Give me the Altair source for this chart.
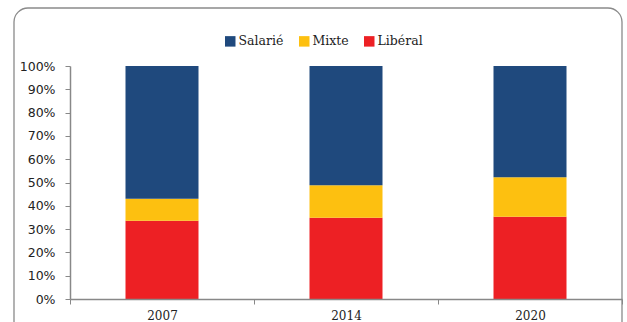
import altair as alt
import pandas as pd

# Répartition par mode d'exercice (en %)
years = ["2007", "2014", "2020"]
liberal = [33.6, 34.9, 35.3]
mixte = [9.4, 13.9, 16.9]
salarie = [57.0, 51.2, 47.8]

series = ["Libéral", "Mixte", "Salarié"]
colors = ["#ED2024", "#FDC010", "#1F497D"]
legend_order = ["Salarié", "Mixte", "Libéral"]

rows = []
for i, y in enumerate(years):
    for k, (name, vals) in enumerate(zip(series, [liberal, mixte, salarie])):
        rows.append({"annee": y, "mode": name, "part": vals[i], "ordre": k})
df = pd.DataFrame(rows)

W, H = 552, 233

frame = alt.Chart(pd.DataFrame({"a": [0]})).mark_rect(
    filled=False, stroke="#8a8a8a", strokeWidth=1.3, cornerRadius=14
).encode(
    x=alt.value(-56), x2=alt.value(W), y=alt.value(-58), y2=alt.value(H + 60)
)

bars = alt.Chart(df).mark_bar(width=73).encode(
    x=alt.X(
        "annee:N",
        title=None,
        sort=years,
        scale=alt.Scale(paddingInner=0, paddingOuter=0),
        axis=alt.Axis(
            labelAngle=0,
            labelFont="DejaVu Serif",
            labelFontSize=12,
            labelColor="#222",
            labelPadding=6,
            tickBand="extent",
            tickSize=5,
            tickColor="#888",
            domainColor="#888",
            domainWidth=1.5,
            zindex=1,
        ),
    ),
    y=alt.Y(
        "part:Q",
        title=None,
        stack="zero",
        scale=alt.Scale(domain=[0, 100], nice=False),
        axis=alt.Axis(
            values=list(range(0, 101, 10)),
            labelExpr="datum.value + '%'",
            labelFont="DejaVu Sans",
            labelFontSize=12.5,
            labelColor="#222",
            labelPadding=10,
            grid=False,
            tickSize=5,
            tickColor="#888",
            domainColor="#888",
            domainWidth=1.5,
            zindex=1,
        ),
    ),
    color=alt.Color(
        "mode:N",
        scale=alt.Scale(domain=series, range=colors),
        legend=alt.Legend(
            title=None,
            orient="none",
            direction="horizontal",
            legendX=154,
            legendY=-31,
            values=legend_order,
            symbolType="square",
            symbolSize=110,
            symbolOpacity=1,
            symbolStrokeWidth=0,
            labelFont="DejaVu Serif",
            labelFontSize=12.5,
            labelColor="#222",
            labelOffset=2,
            columnPadding=14,
        ),
    ),
    order=alt.Order("ordre:Q"),
)

chart = (
    alt.layer(frame, bars)
    .properties(
        width=W,
        height=H,
        padding={"left": 70, "top": 66, "right": 5, "bottom": 23},
        autosize=alt.AutoSizeParams(type="none"),
        background="white",
    )
    .configure_view(stroke=None)
)

chart.save("out.html", embed_options={"renderer": "svg", "actions": False})
